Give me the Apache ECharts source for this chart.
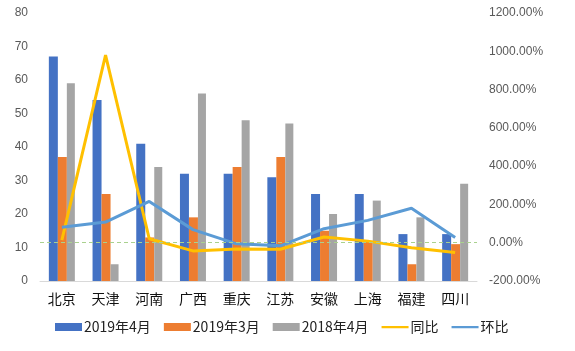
<!DOCTYPE html>
<html><head><meta charset="utf-8">
<script src="https://cdn.jsdelivr.net/npm/echarts@6/dist/echarts.min.js"></script>
<style>html,body{margin:0;padding:0;background:#fff}#c{width:575px;height:351px}</style>
</head><body><div id="c"></div>
<script>
const categories = ['北京','天津','河南','广西','重庆','江苏','安徽','上海','福建','四川'];
const apr2019 = [67,54,41,32,32,31,26,26,14,14];
const mar2019 = [37,26,13,19,34,37,15,12,5,11];
const apr2018 = [59,5,34,56,48,47,20,24,19,29];
const yoy = [13.6,980,20.6,-42.9,-33.3,-34.0,30.0,8.3,-26.3,-51.7];
const mom = [81.1,107.7,215.4,68.4,-5.9,-16.2,73.3,116.7,180,27.3];
const leftTicks = {min:0,max:80,interval:10};
const rightTicks = {min:-200,max:1200,interval:200};

const chart = echarts.init(document.getElementById('c'));
const numFont = 'Liberation Sans, Arial, sans-serif';
const cjkFont = 'Noto Sans CJK SC, sans-serif';
const lineIcon = 'path://M0,0 L0.01,0 M0,3 L27,3 L27,5.2 L0,5.2 Z M27,8 L26.99,8';
chart.setOption({
  animation:false,
  grid:{left:40,right:98,top:13,bottom:70,containLabel:false},
  legend:{
    bottom:12,left:50,itemGap:13,itemWidth:27,itemHeight:8,
    textStyle:{fontFamily:cjkFont,fontSize:14,color:'#222',padding:[0,0,0,-3]},
    data:[
      {name:'2019年4月',icon:'rect'},
      {name:'2019年3月',icon:'rect'},
      {name:'2018年4月',icon:'rect'},
      {name:'同比',icon:lineIcon},
      {name:'环比',icon:lineIcon}
    ]
  },
  xAxis:{type:'category',data:categories,
    axisLine:{lineStyle:{color:'#d9d9d9',width:1}},axisTick:{show:false},
    axisLabel:{fontFamily:cjkFont,fontSize:14,color:'#111',margin:11}},
  yAxis:[
    {type:'value',min:leftTicks.min,max:leftTicks.max,interval:leftTicks.interval,
     splitLine:{show:false},axisLine:{show:false},axisTick:{show:false},
     axisLabel:{fontFamily:numFont,fontSize:12,color:'#595959',margin:12}},
    {type:'value',min:rightTicks.min,max:rightTicks.max,interval:rightTicks.interval,
     splitLine:{show:false},axisLine:{show:false},axisTick:{show:false},
     axisLabel:{fontFamily:numFont,fontSize:12,color:'#595959',margin:12,
       formatter:v=>v.toFixed(2)+'%'}}
  ],
  series:[
    {name:'2019年4月',type:'bar',data:apr2019,barWidth:9,barGap:'0%',itemStyle:{color:'#4472C4'}},
    {name:'2019年3月',type:'bar',data:mar2019,barWidth:9,barGap:'0%',itemStyle:{color:'#ED7D31'}},
    {name:'2018年4月',type:'bar',data:apr2018,barWidth:8,barGap:'0%',itemStyle:{color:'#A5A5A5'},
     markLine:{silent:true,symbol:'none',label:{show:false},
       lineStyle:{color:'#A9D18E',type:[4,3],width:1},
       data:[{yAxis:11.43}]}},
    {name:'同比',type:'line',yAxisIndex:1,data:yoy,symbol:'none',lineStyle:{color:'#FFC000',width:3},itemStyle:{color:'#FFC000'}},
    {name:'环比',type:'line',yAxisIndex:1,data:mom,symbol:'none',lineStyle:{color:'#5B9BD5',width:3},itemStyle:{color:'#5B9BD5'}}
  ]
});
</script></body></html>
